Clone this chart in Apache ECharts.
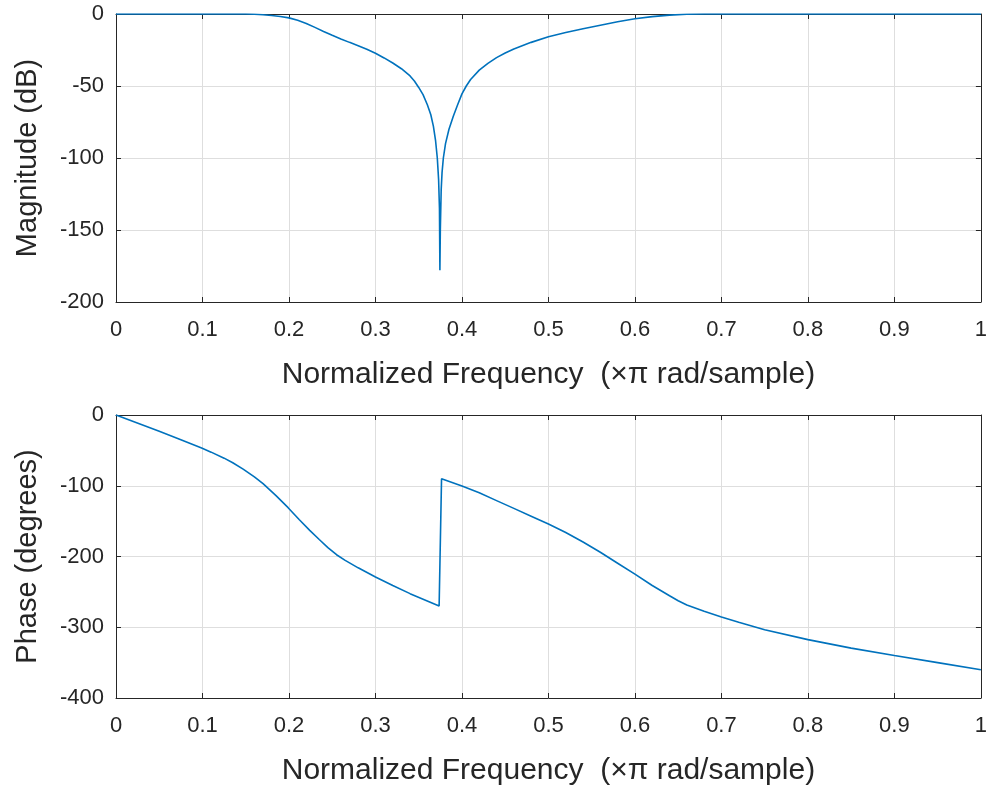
<!DOCTYPE html>
<html>
<head>
<meta charset="utf-8">
<script src="https://cdn.jsdelivr.net/npm/echarts@6/dist/echarts.min.js"></script>
<style>
html,body{margin:0;padding:0;background:#fff;}
#chart{width:990px;height:787px;}
</style>
</head>
<body>
<div id="chart"></div>
<script>
// Magnitude response
var magFreq = [0, 0.05, 0.1, 0.13, 0.15, 0.16, 0.17, 0.18, 0.19, 0.2, 0.21, 0.22, 0.23, 0.24, 0.25, 0.26, 0.27, 0.28, 0.29, 0.3, 0.31, 0.32, 0.33, 0.34, 0.345, 0.35, 0.355, 0.36, 0.364, 0.367, 0.3695, 0.3715, 0.373, 0.374, 0.3745, 0.375, 0.376, 0.377, 0.3785, 0.381, 0.385, 0.39, 0.395, 0.4, 0.405, 0.41, 0.42, 0.43, 0.44, 0.45, 0.46, 0.48, 0.5, 0.52, 0.54, 0.56, 0.58, 0.6, 0.62, 0.64, 0.66, 0.68, 0.7, 0.8, 0.9, 1];
var magDb = [0, 0, 0, 0, -0.05, -0.2, -0.5, -1, -1.7, -2.7, -4.4, -6.6, -9.3, -12.1, -14.8, -17.3, -19.7, -22, -24.5, -27.3, -30.5, -34, -38, -43, -46.5, -51, -56, -63, -70, -78, -88, -100, -115, -135, -178, -150, -122, -110, -100, -90, -80, -71, -63, -55.5, -50, -45.5, -39, -34.3, -30.3, -27.1, -24.3, -19.7, -15.8, -12.8, -10.2, -7.8, -5.4, -3.3, -1.8, -0.75, -0.15, 0, 0, 0, 0, 0];

// Phase response
var phaseFreq = [0, 0.05, 0.075, 0.099, 0.11, 0.125, 0.135, 0.147, 0.16, 0.17, 0.185, 0.199, 0.212, 0.224, 0.235, 0.245, 0.255, 0.265, 0.28, 0.3, 0.32, 0.34, 0.3736, 0.3764, 0.4, 0.42, 0.44, 0.46, 0.48, 0.5, 0.52, 0.54, 0.56, 0.58, 0.6, 0.62, 0.64, 0.65, 0.66, 0.68, 0.7, 0.72, 0.75, 0.8, 0.85, 0.9, 0.95, 1];
var phaseDeg = [0, -23, -35, -46.8, -52.5, -61, -67.5, -76.5, -87.5, -97, -114, -131, -148, -163, -176, -187.5, -197.5, -205.5, -216, -229, -241, -252.5, -270, -90, -100.5, -110, -121, -132, -143, -154, -166, -179.5, -194, -209.5, -225, -241, -255.5, -262.5, -268.5, -277.5, -285.5, -293, -303.5, -317.5, -329.5, -340, -350, -360];

var xTicks = ['0','0.1','0.2','0.3','0.4','0.5','0.6','0.7','0.8','0.9','1'];
var xName = 'Normalized Frequency  (\u00D7\u03C0 rad/sample)';
var magName = 'Magnitude (dB)';
var phaseName = 'Phase (degrees)';

function zip(a, b) { return a.map(function (v, i) { return [v, b[i]]; }); }

var FONT = '"Liberation Sans", Arial, sans-serif';
var TXT = '#262626';
var GRIDC = '#dedede';
var LINE = '#0072BD';

function xAx(gi, main) {
  return {
    type: 'value', gridIndex: gi, min: 0, max: 1, interval: 0.1,
    position: main ? 'bottom' : 'top',
    name: main ? xName : '', nameLocation: 'middle', nameGap: 58,
    nameTextStyle: { fontFamily: FONT, fontSize: 30, color: TXT },
    axisLine: { show: true, onZero: false, lineStyle: { color: TXT, width: 1 } },
    axisTick: { show: true, inside: true, length: 5, lineStyle: { color: TXT } },
    axisLabel: { show: main, fontFamily: FONT, fontSize: 22, color: TXT, margin: 17,
      formatter: function (v) { return xTicks[Math.round(v * 10)]; } },
    splitLine: { show: main, lineStyle: { color: GRIDC, width: 1 } }
  };
}
function yAx(gi, main, mn, mx, iv, nm) {
  return {
    type: 'value', gridIndex: gi, min: mn, max: mx, interval: iv,
    position: main ? 'left' : 'right',
    name: main ? nm : '', nameLocation: 'middle', nameGap: 74, nameRotate: 90,
    nameTextStyle: { fontFamily: FONT, fontSize: 29, color: TXT },
    axisLine: { show: true, onZero: false, lineStyle: { color: TXT, width: 1 } },
    axisTick: { show: true, inside: true, length: 5, lineStyle: { color: TXT } },
    axisLabel: { show: main, fontFamily: FONT, fontSize: 22, color: TXT, margin: 12 },
    splitLine: { show: main, lineStyle: { color: GRIDC, width: 1 } }
  };
}

var chart = echarts.init(document.getElementById('chart'), null, { renderer: 'canvas' });
chart.setOption({
  animation: false,
  backgroundColor: '#ffffff',
  grid: [
    { left: 116, right: 8, top: 14, height: 288, show: false },
    { left: 116, right: 8, top: 415, height: 285, show: false }
  ],
  xAxis: [xAx(0, true), xAx(0, false), xAx(1, true), xAx(1, false)],
  yAxis: [yAx(0, true, -200, 0, 50, magName), yAx(0, false, -200, 0, 50, ''),
          yAx(1, true, -400, 0, 100, phaseName), yAx(1, false, -400, 0, 100, '')],
  series: [
    { type: 'line', xAxisIndex: 0, yAxisIndex: 0, data: zip(magFreq, magDb), showSymbol: false,
      lineStyle: { color: LINE, width: 1.6 }, z: 5 },
    { type: 'line', xAxisIndex: 2, yAxisIndex: 2, data: zip(phaseFreq, phaseDeg), showSymbol: false,
      lineStyle: { color: LINE, width: 1.6 }, z: 5 }
  ]
});
</script>
</body>
</html>
